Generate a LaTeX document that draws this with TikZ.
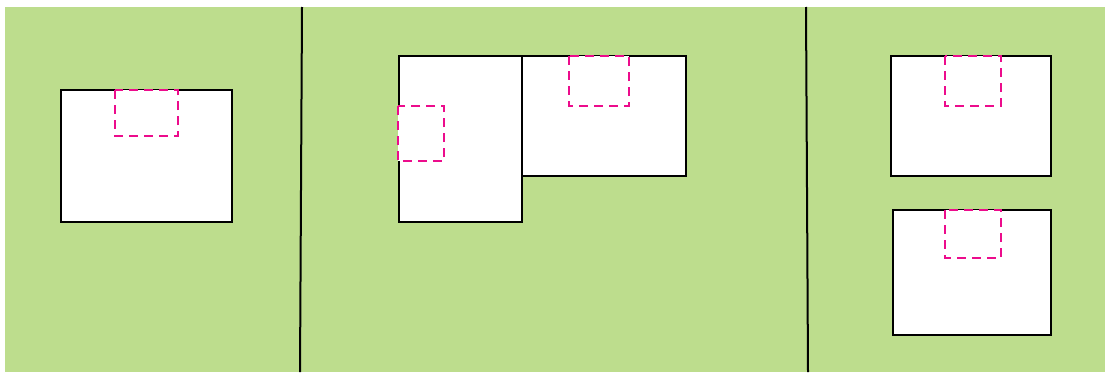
\documentclass[tikz,border=0pt]{standalone}
\definecolor{bg}{HTML}{BDDD8D}
\definecolor{mag}{HTML}{EC0C8C}
\begin{document}
\begin{tikzpicture}[x=1pt,y=-1pt,
  room/.style={draw=black,fill=white,line width=2.1pt},
  zone/.style={draw=mag,fill=white,line width=2.6pt,dash pattern=on 9pt off 6pt},
  wall/.style={draw=black,line width=2pt}]
\useasboundingbox (0,0) rectangle (1105,372);
\fill[bg] (5,7) rectangle (1105,372);
\draw[wall] (302,7) -- (300,372);
\draw[wall] (806,7) -- (808,372);
% left panel
\draw[room] (61,90) rectangle (232,222);
\draw[zone] (115,90) rectangle (178,136);
% middle panel
\draw[room] (399,56) rectangle (522,222);
\draw[room] (522,56) rectangle (686,176);
\draw[zone] (569,56) rectangle (629,106);
\draw[zone] (398,106) rectangle (444,161);
% right panel
\draw[room] (891,56) rectangle (1051,176);
\draw[zone] (945,56) rectangle (1001,106);
\draw[room] (893,210) rectangle (1051,335);
\draw[zone] (945,210) rectangle (1001,258);
\end{tikzpicture}
\end{document}
